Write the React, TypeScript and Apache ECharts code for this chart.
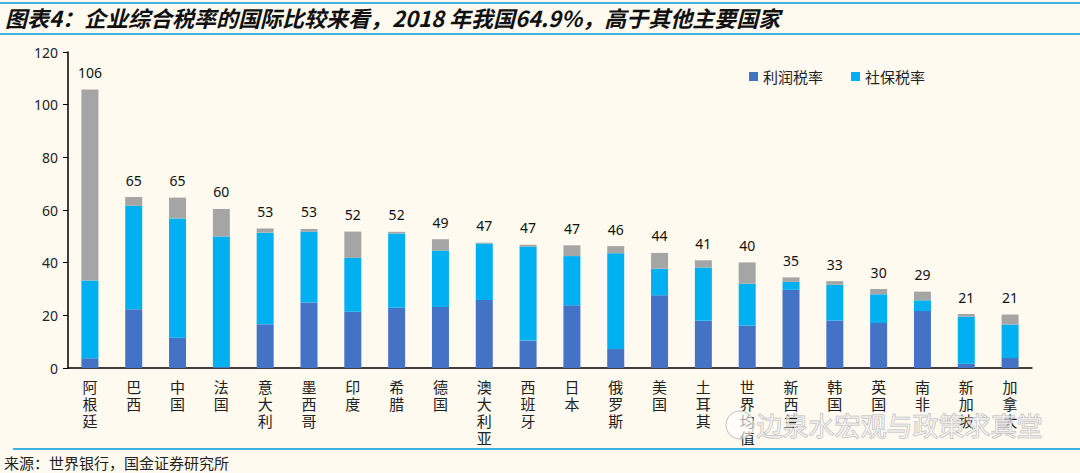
import React, { useEffect, useRef } from "react";
import * as echarts from "echarts";

const categories = ["阿根廷", "巴西", "中国", "法国", "意大利", "墨西哥", "印度", "希腊", "德国", "澳大利亚", "西班牙", "日本", "俄罗斯", "美国", "土耳其", "世界均值", "新西兰", "韩国", "英国", "南非", "新加坡", "加拿大"];
const profitTax = [3.7, 22.3, 11.5, 0.4, 16.6, 24.9, 21.4, 22.9, 23.2, 25.8, 10.4, 23.8, 7.2, 27.6, 17.9, 16.1, 29.7, 18.0, 17.1, 21.6, 1.6, 3.8];
const socialTax = [29.5, 39.3, 45.3, 49.5, 34.8, 26.9, 20.4, 28.2, 21.4, 21.5, 35.7, 18.7, 36.4, 10.1, 20.3, 15.9, 3.0, 13.6, 10.9, 4.1, 17.9, 12.7];
const otherTax = [72.6, 3.3, 7.9, 10.5, 1.6, 1.0, 10.0, 0.6, 4.3, 0.3, 0.7, 4.1, 2.7, 6.0, 2.7, 8.1, 1.7, 1.4, 2.0, 3.3, 1.0, 3.8];
const totalLabels = ["106", "65", "65", "60", "53", "53", "52", "52", "49", "47", "47", "47", "46", "44", "41", "40", "35", "33", "30", "29", "21", "21"];

const TITLE = "图表4：企业综合税率的国际比较来看，2018 年我国64.9%，高于其他主要国家";
const SOURCE = "来源：世界银行，国金证券研究所";
const WATERMARK = "边泉水宏观与政策求真堂";

export default function App() {
  const ref = useRef<HTMLDivElement>(null);
  useEffect(() => {
    if (!ref.current) return;
    const chart = echarts.init(ref.current, null, { renderer: "svg" });
    const cjk = "'Noto Sans CJK SC', 'Noto Sans', sans-serif";
    chart.setOption({
      animation: false,
      backgroundColor: "#FEFAF0",
      textStyle: { fontFamily: cjk },
      graphic: [
        {
          type: "line",
          shape: { x1: 0, y1: 3, x2: 1080, y2: 3 },
          style: { stroke: "#3FB3E0", lineWidth: 2 },
        },
        {
          type: "text",
          left: 5,
          top: 6,
          style: {
            text: TITLE,
            fontSize: 22,
            fontWeight: "bold",
            fontStyle: "italic",
            fill: "#111",
            fontFamily: cjk,
          },
        },
        {
          type: "line",
          shape: { x1: 0, y1: 34, x2: 1080, y2: 34 },
          style: { stroke: "#3FB3E0", lineWidth: 2 },
        },
        {
          type: "line",
          shape: { x1: 13, y1: 449, x2: 1080, y2: 449 },
          style: { stroke: "#3FB3E0", lineWidth: 2 },
        },
        {
          type: "text",
          left: 4,
          top: 455,
          style: { text: SOURCE, fontSize: 15, fill: "#222", fontFamily: cjk },
        },
        {
          type: "circle",
          shape: { cx: 740, cy: 425, r: 14 },
          style: { fill: "rgba(255,255,255,0.6)", stroke: "#c0c0c0", lineWidth: 1 },
          z: 100,
        },
        {
          type: "text",
          left: 756,
          top: 411,
          z: 100,
          style: {
            text: WATERMARK,
            fontSize: 26,
            fill: "rgba(255,255,255,0.55)",
            stroke: "#b8b8b8",
            lineWidth: 1,
            fontFamily: cjk,
          },
        },
      ],
      legend: {
        left: 744,
        top: 64,
        itemWidth: 9,
        itemHeight: 9,
        itemGap: 28,
        icon: "rect",
        textStyle: { fontSize: 15, color: "#222", fontFamily: cjk },
        data: ["利润税率", "社保税率"],
      },
      grid: { left: 68, right: 48, top: 52, bottom: 105 },
      xAxis: {
        type: "category",
        data: categories,
        axisLine: { lineStyle: { color: "#000", width: 1.5 } },
        axisTick: { show: false },
        axisLabel: {
          interval: 0,
          margin: 10,
          fontSize: 15,
          lineHeight: 17,
          color: "#222",
          verticalAlign: "top",
          formatter: (v: string) => v.split("").join("\n"),
        },
      },
      yAxis: {
        type: "value",
        min: 0,
        max: 120,
        interval: 20,
        splitLine: { show: false },
        axisLine: { show: true, lineStyle: { color: "#000", width: 1.5 } },
        axisTick: { show: true, length: 5, lineStyle: { color: "#000" } },
        axisLabel: { fontSize: 14, color: "#222", margin: 10, fontFamily: "'Noto Sans', sans-serif" },
      },
      series: [
        {
          name: "利润税率",
          type: "bar",
          stack: "t",
          barWidth: 17,
          data: profitTax,
          itemStyle: { color: "#4472C4" },
        },
        {
          name: "社保税率",
          type: "bar",
          stack: "t",
          barWidth: 17,
          data: socialTax,
          itemStyle: { color: "#00B0F0" },
        },
        {
          name: "其他",
          type: "bar",
          stack: "t",
          barWidth: 17,
          data: otherTax,
          itemStyle: { color: "#A5A5A5" },
          label: {
            show: true,
            position: "top",
            distance: 10,
            fontSize: 14,
            color: "#111",
            fontFamily: "'Noto Sans', sans-serif",
            formatter: (p: any) => totalLabels[p.dataIndex],
          },
        },
      ],
    });
    return () => chart.dispose();
  }, []);
  return (
    <div
      ref={ref}
      style={{ position: "fixed", left: 0, top: 0, width: 1080, height: 473 }}
    />
  );
}
